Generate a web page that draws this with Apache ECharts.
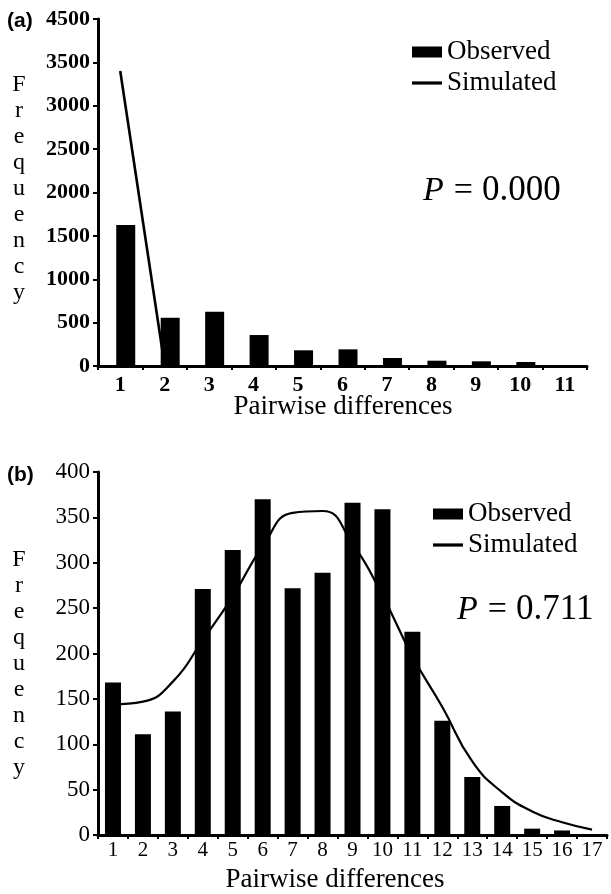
<!DOCTYPE html>
<html><head><meta charset="utf-8">
<script src="https://cdn.jsdelivr.net/npm/echarts@6/dist/echarts.min.js"></script>
<style>html,body{margin:0;padding:0;background:#fff}#c{width:611px;height:894px}</style>
</head><body><div id="c"></div>
<script>
// ---- data ----
const categoriesA = ['1','2','3','4','5','6','7','8','9','10','11'];
const observedA = [1624, 556, 626, 357, 181, 192, 92, 61, 54, 46, 0];
const simulatedA = [3400, 0, null, null, null, null, null, null, null, null, null];
const yTickLabelsA = ['0','500','1000','1500','2000','2500','3000','3500','4500'];

const categoriesB = ['1','2','3','4','5','6','7','8','9','10','11','12','13','14','15','16','17'];
const observedB = [168, 111, 136, 271, 314, 370, 272, 289, 366, 359, 224, 126, 64, 32, 7, 5, 0];
const simulatedB = [144, 147, 169, 215, 263, 318, 355, 357, 321, 264, 197, 141, 81, 47, 26, 14, 6];
const yTickLabelsB = ['0','50','100','150','200','250','300','350','400'];

const pValueA = '0.000';
const pValueB = '0.711';
const xTitle = 'Pairwise differences';
const yTitle = 'Frequency';

// ---- chart ----
const SERIF = '"Liberation Serif","Times New Roman",serif';
const SANS = '"Liberation Sans",Arial,sans-serif';
const chart = echarts.init(document.getElementById('c'), null, {renderer: 'canvas'});

function xAx(grid, cats, fs, bold, margin) {
  return {
    gridIndex: grid, type: 'category', data: cats, boundaryGap: true,
    axisLine: {show: true, lineStyle: {color: '#000', width: 3}},
    axisTick: {show: true, length: 4, lineStyle: {color: '#000', width: 2}},
    axisLabel: {color: '#000', fontFamily: SERIF, fontSize: fs, fontWeight: bold ? 'bold' : 'normal', margin: margin, interval: 0},
    splitLine: {show: false}
  };
}
function yAx(grid, max, interval, labels, bold, fs) {
  return {
    gridIndex: grid, type: 'value', min: 0, max: max, interval: interval,
    axisLine: {show: true, lineStyle: {color: '#000', width: 3}},
    axisTick: {show: true, length: 5, lineStyle: {color: '#000', width: 2}},
    splitLine: {show: false},
    axisLabel: {color: '#000', fontFamily: SERIF, fontSize: fs, fontWeight: bold ? 'bold' : 'normal', margin: 8,
      formatter: v => labels[Math.round(v / interval)]}
  };
}
function legendAt(left, top) {
  return {
    left: left, top: top, orient: 'vertical', padding: 0, itemGap: 1,
    itemWidth: 30, itemHeight: 11, selectedMode: false, symbolKeepAspect: true,
    data: [{name: 'Observed', icon: 'rect'}, {name: 'Simulated', icon: 'path://M0,0L28,0L28,3L0,3Z'}],
    textStyle: {fontFamily: SERIF, fontSize: 27, color: '#000', lineHeight: 30}
  };
}
function pText(x, y, val) {
  return {
    type: 'text', x: x, y: y,
    style: {
      text: '{p|P}{e|=}{n|' + val + '}', fill: '#000', fontFamily: SERIF, fontSize: 34,
      align: 'left', verticalAlign: 'middle',
      rich: {
        p: {fontStyle: 'italic', fontFamily: SERIF, fontSize: 34, fill: '#000', padding: [0, 10, 0, 0]},
        e: {fontFamily: SERIF, fontSize: 34, fill: '#000', padding: [0, 9, 0, 0]},
        n: {fontFamily: SERIF, fontSize: 35, fill: '#000'}
      }
    }
  };
}
function freqText(y) {
  return {
    type: 'text', x: 19, y: y,
    style: {text: yTitle.split('').join('\n'), fill: '#000', fontFamily: SERIF, fontSize: 24,
      lineHeight: 26, align: 'center', verticalAlign: 'top'}
  };
}
function xTitleText(x, y) {
  return {
    type: 'text', x: x, y: y,
    style: {text: xTitle, fill: '#000', fontFamily: SERIF, fontSize: 27, align: 'center', verticalAlign: 'middle'}
  };
}
function panelTag(y, t) {
  return {
    type: 'text', x: 7, y: y,
    style: {text: t, fill: '#000', fontFamily: SANS, fontWeight: 'bold', fontSize: 21, align: 'left', verticalAlign: 'middle'}
  };
}

const option = {
  animation: false,
  backgroundColor: '#fff',
  grid: [
    {left: 98, right: 24, top: 19, bottom: 528, containLabel: false},
    {left: 98, right: 4, top: 472, bottom: 59, containLabel: false}
  ],
  xAxis: [xAx(0, categoriesA, 22, true, 8), xAx(1, categoriesB, 21, false, 5)],
  yAxis: [yAx(0, 4000, 500, yTickLabelsA, true, 22), yAx(1, 400, 50, yTickLabelsB, false, 23)],
  legend: [legendAt(412, 37), legendAt(433, 499)],
  series: [
    {name: 'Simulated', type: 'line', xAxisIndex: 0, yAxisIndex: 0, data: simulatedA,
      symbol: 'none', z: 1, lineStyle: {color: '#000', width: 2.6}, itemStyle: {color: '#000'}},
    {name: '_pad', type: 'bar', xAxisIndex: 0, yAxisIndex: 0, data: categoriesA.map(() => null),
      barWidth: 19, barGap: '-42%', silent: true, itemStyle: {color: 'rgba(0,0,0,0)'}},
    {name: 'Observed', type: 'bar', xAxisIndex: 0, yAxisIndex: 0, data: observedA,
      barWidth: 19, barGap: '-42%', z: 2, itemStyle: {color: '#000'}},
    {name: 'Observed', type: 'bar', xAxisIndex: 1, yAxisIndex: 1, data: observedB,
      barWidth: 16, z: 2, itemStyle: {color: '#000'}},
    {name: 'Simulated', type: 'line', xAxisIndex: 1, yAxisIndex: 1, data: simulatedB,
      symbol: 'none', smooth: true, z: 3, lineStyle: {color: '#000', width: 2.2}, itemStyle: {color: '#000'}}
  ],
  graphic: [
    panelTag(21, '(a)'),
    panelTag(475, '(b)'),
    freqText(72),
    freqText(547),
    xTitleText(343, 407),
    xTitleText(335, 880),
    pText(423, 191, pValueA),
    pText(457, 610, pValueB)
  ]
};
chart.setOption(option);
</script>
</body></html>
